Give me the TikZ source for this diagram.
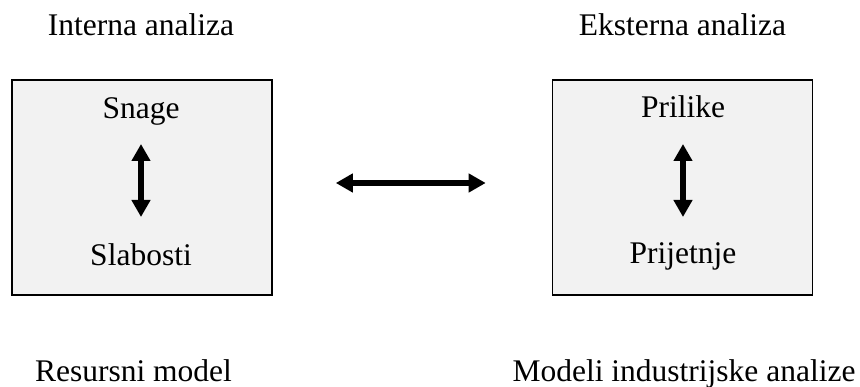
\documentclass[tikz,border=0pt]{standalone}
\usepackage{fontspec}
\setmainfont{Liberation Serif}
\usetikzlibrary{arrows.meta}
\begin{document}
\begin{tikzpicture}[x=1pt,y=-1pt,
  label text/.style={inner sep=0pt,anchor=base,font=\fontsize{31.5}{36}\selectfont},
  panel/.style={draw=black,line width=1.6pt,fill=black!5,minimum width=260pt,minimum height=215pt,inner sep=0pt},
  bigarrow/.style={line width=6pt,{Triangle[length=17pt,width=18pt]}-{Triangle[length=17pt,width=18pt]}}]
\useasboundingbox (0,0) rectangle (860,387);

% analysis panels
\node[panel] (inner) at (142,187.5) {};
\node[panel] (outer) at (682.5,187.5) {};

% headings and model captions
\node[label text] (ti) at (141,36) {Interna analiza};
\node[label text] (te) at (682.5,36) {Eksterna analiza};
\node[label text] (ri) at (133.5,381.5) {Resursni model};
\node[label text] (re) at (684,381.5) {Modeli industrijske analize};

% panel contents
\node[label text] (snage) at (141,119) {Snage};
\node[label text] (slab) at (141,266) {Slabosti};
\node[label text] (pril) at (683,118) {Prilike};
\node[label text] (prij) at (683,264) {Prijetnje};

% connectors
\draw[bigarrow,shorten <=25pt,shorten >=49pt] (snage.base) -- (slab.base);
\draw[bigarrow,shorten <=26pt,shorten >=47pt] (pril.base) -- (prij.base);
\draw[bigarrow,shorten <=63pt,shorten >=66pt] ([yshift=4.5pt]inner.east) -- ([yshift=4.5pt]outer.west);
\end{tikzpicture}
\end{document}
